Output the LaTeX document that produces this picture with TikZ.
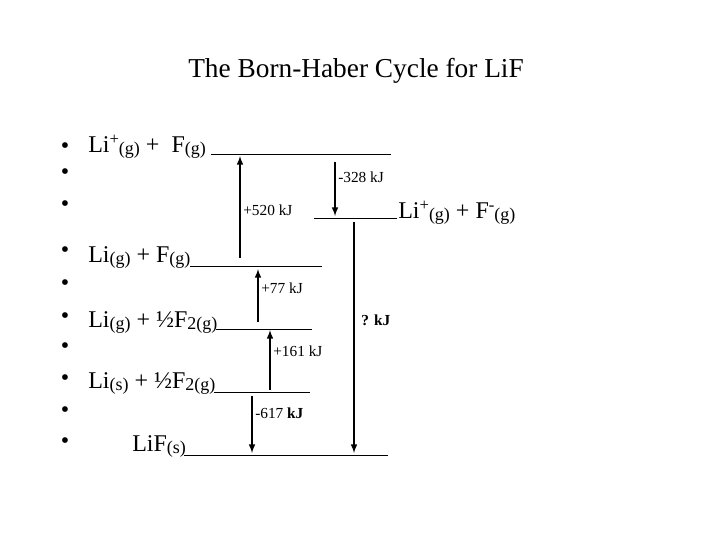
\documentclass[tikz,border=0pt]{standalone}
\usepackage{fontspec}
\setmainfont{Liberation Serif}
\newcommand{\sbs}[1]{\raisebox{-0.25ex}{\fontsize{13.5}{13.5}\selectfont #1}}
\newcommand{\sps}[1]{\raisebox{0.7ex}{\fontsize{12.5}{12.5}\selectfont #1}}
\begin{document}
\begin{tikzpicture}[x=0.75pt,y=-0.75pt,
  lvl/.style={line width=0.6pt},
  arr/.style={line width=1.2pt,-latex},
  big/.style={font=\fontsize{18}{18}\selectfont,anchor=base west,inner sep=0},
  lab/.style={font=\fontsize{11.5}{11.5}\selectfont,anchor=west,inner sep=0},
  bul/.style={font=\fontsize{18}{18}\selectfont,inner sep=0}]
\useasboundingbox (0,0) rectangle (720,540);
\node[font=\fontsize{20.5}{20.5}\selectfont,anchor=base west,inner sep=0] (title) at (188,77) {The Born-Haber Cycle for LiF};
\foreach \y [count=\i] in {148,174,206,252,285,318,348,380,412,443}
  \node[bul] (b\i) at (65,\y) {•};
\node[big] (t1) at (88,152) {Li\sps{+}\sbs{(g)} + \ F\sbs{(g)}};
\node[big] (t2) at (398,218) {Li\sps{+}\sbs{(g)} + F\sps{-}\sbs{(g)}};
\node[big] (t3) at (88,262) {Li\sbs{(g)} + F\sbs{(g)}};
\node[big] (t4) at (88,327) {Li\sbs{(g)} + ½F\sbs{2(g)}};
\node[big] (t5) at (88,388) {Li\sbs{(s)} + ½F\sbs{2(g)}};
\node[big] (t6) at (132,451) {LiF\sbs{(s)}};
\coordinate (l1a) at (211,154); \coordinate (l1b) at (391,154);
\coordinate (l2a) at (314,218); \coordinate (l2b) at (397,218);
\coordinate (l3a) at (190,266); \coordinate (l3b) at (322,266);
\coordinate (l4a) at (216,329); \coordinate (l4b) at (312,329);
\coordinate (l5a) at (214,392); \coordinate (l5b) at (310,392);
\coordinate (l6a) at (184,455); \coordinate (l6b) at (388,455);
\foreach \n in {1,...,6} \draw[lvl] (l\n a) -- (l\n b);
\coordinate (a1s) at (240,258); \coordinate (a1e) at (240,156);
\coordinate (a2s) at (335,162); \coordinate (a2e) at (335,216);
\coordinate (a3s) at (258,322); \coordinate (a3e) at (258,269);
\coordinate (a4s) at (270,390); \coordinate (a4e) at (270,330);
\coordinate (a5s) at (252,396); \coordinate (a5e) at (252,453);
\coordinate (a6s) at (354,222); \coordinate (a6e) at (354,453);
\foreach \n in {1,...,6} \draw[arr] (a\n s) -- (a\n e);
\node[lab] (k1) at (243,210) {+520 kJ};
\node[lab] (k2) at (338,177) {-328 kJ};
\node[lab] (k3) at (261,288) {+77 kJ};
\node[lab] (k4) at (273,351) {+161 kJ};
\node[lab] (k5) at (255,413) {-617 \textbf{kJ}};
\node[lab] (k6) at (361,320) {\textbf{? kJ}};
\end{tikzpicture}
\end{document}
